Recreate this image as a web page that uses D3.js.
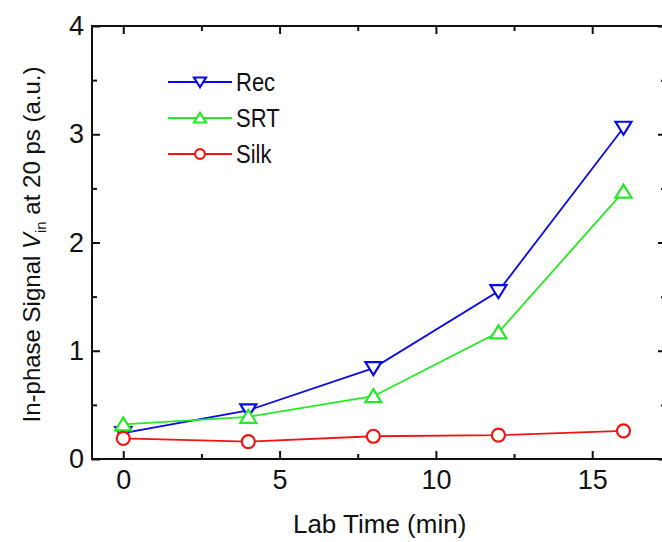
<!DOCTYPE html>
<html>
<head>
<meta charset="utf-8">
<script src="https://d3js.org/d3.v7.min.js"></script>
<style>
  body { margin: 0; background: #fff; }
  text { font-family: "Liberation Sans", Arial, sans-serif; fill: #111; }
</style>
</head>
<body>
<div id="chart"></div>
<script>
// data
var times = [0, 4, 8, 12, 16];
var recValues = [0.24, 0.45, 0.84, 1.55, 3.06];
var srtValues = [0.32, 0.39, 0.58, 1.17, 2.47];
var silkValues = [0.19, 0.16, 0.21, 0.22, 0.26];
var seriesNames = ["Rec", "SRT", "Silk"];
var xTicks = [0, 5, 10, 15];
var yTicks = [0, 1, 2, 3, 4];

var W = 662, H = 542;
var margin = {top: 26, right: -4, bottom: 83, left: 92};
var width = W - margin.left - margin.right,
    height = H - margin.top - margin.bottom;

var svg = d3.select("#chart").append("svg")
  .attr("width", W).attr("height", H);
var g = svg.append("g")
  .attr("transform", "translate(" + margin.left + "," + margin.top + ")");

var x = d3.scaleLinear().domain([-1, 17.36]).range([0, width]);
var y = d3.scaleLinear().domain([0, 4]).range([height, 0]);

var series = [
  {name: seriesNames[0], values: recValues, color: "#0a0ae6", shape: "down"},
  {name: seriesNames[1], values: srtValues, color: "#26e826", shape: "up"},
  {name: seriesNames[2], values: silkValues, color: "#ee1515", shape: "circle"}
];

// frame
g.append("rect").attr("width", width).attr("height", height)
  .attr("fill", "none").attr("stroke", "#111").attr("stroke-width", 2);

// axes with inward ticks
function styleAxis(sel) {
  sel.select(".domain").remove();
  sel.selectAll("line").attr("stroke", "#111").attr("stroke-width", 2);
  sel.selectAll("text").style("font-size", "27px").attr("fill", "#111");
}
var xMinor = d3.range(0, 17.5, 2.5).filter(function(v) { return v % 5 !== 0; });
var yMinor = d3.range(0.5, 4, 1);

g.append("g").attr("transform", "translate(0," + height + ")")
  .call(d3.axisBottom(x).tickValues(xTicks).tickSize(-8).tickPadding(11).tickFormat(d3.format("d")))
  .call(styleAxis);
g.append("g").attr("transform", "translate(0," + height + ")")
  .call(d3.axisBottom(x).tickValues(xMinor).tickSize(-5).tickFormat(""))
  .call(styleAxis);
g.append("g")
  .call(d3.axisTop(x).tickValues(xTicks).tickSize(-8).tickFormat(""))
  .call(styleAxis);
g.append("g")
  .call(d3.axisTop(x).tickValues(xMinor).tickSize(-5).tickFormat(""))
  .call(styleAxis);

g.append("g")
  .call(d3.axisLeft(y).tickValues(yTicks).tickSize(-8).tickPadding(8).tickFormat(d3.format("d")))
  .call(styleAxis);
g.append("g")
  .call(d3.axisLeft(y).tickValues(yMinor).tickSize(-5).tickFormat(""))
  .call(styleAxis);
g.append("g").attr("transform", "translate(" + width + ",0)")
  .call(d3.axisRight(y).tickValues(yTicks).tickSize(-8).tickFormat(""))
  .call(styleAxis);
g.append("g").attr("transform", "translate(" + width + ",0)")
  .call(d3.axisRight(y).tickValues(yMinor).tickSize(-5).tickFormat(""))
  .call(styleAxis);

// markers
var triDown = "M-8,-6L8,-6L0,7Z";
var triUp = "M-8,6L8,6L0,-7Z";
function drawMarker(sel, s, k) {
  if (s.shape === "circle") {
    sel.append("circle").attr("r", 6.5 * k)
      .attr("fill", "#fff").attr("stroke", s.color).attr("stroke-width", 2.2);
  } else {
    sel.append("path").attr("d", s.shape === "down" ? triDown : triUp)
      .attr("transform", "scale(" + k + ")")
      .attr("fill", "#fff").attr("stroke", s.color).attr("stroke-width", 2.2 / k);
  }
}

var line = d3.line()
  .x(function(d, i) { return x(times[i]); })
  .y(function(d) { return y(d); });

series.forEach(function(s) {
  g.append("path").datum(s.values)
    .attr("d", line).attr("fill", "none")
    .attr("stroke", s.color).attr("stroke-width", 1.8);
});
series.forEach(function(s) {
  s.values.forEach(function(v, i) {
    var m = g.append("g").attr("transform", "translate(" + x(times[i]) + "," + y(v) + ")");
    drawMarker(m, s, 1);
  });
});

// legend
var legend = svg.append("g");
series.forEach(function(s, i) {
  var ly = 82 + i * 36;
  legend.append("line").attr("x1", 168).attr("x2", 232)
    .attr("y1", ly).attr("y2", ly)
    .attr("stroke", s.color).attr("stroke-width", 1.8);
  drawMarker(legend.append("g").attr("transform", "translate(200," + ly + ")"), s, 0.75);
  legend.append("text")
    .attr("transform", "translate(236," + (ly + 9) + ") scale(1,1.2)")
    .style("font-size", "22px").text(s.name);
});

// axis titles
svg.append("text")
  .attr("x", margin.left + x(8.2)).attr("y", 533)
  .attr("text-anchor", "middle").style("font-size", "26px")
  .text("Lab Time (min)");

var yt = svg.append("text")
  .attr("transform", "translate(40," + (margin.top + height / 2 + 2) + ") rotate(-90)")
  .attr("text-anchor", "middle").style("font-size", "24px");
yt.append("tspan").text("In-phase Signal ");
yt.append("tspan").style("font-style", "italic").text("V");
yt.append("tspan").attr("dy", 6).style("font-size", "15px").text("in");
yt.append("tspan").attr("dy", -6).text(" at 20 ps (a.u.)");
</script>
</body>
</html>
